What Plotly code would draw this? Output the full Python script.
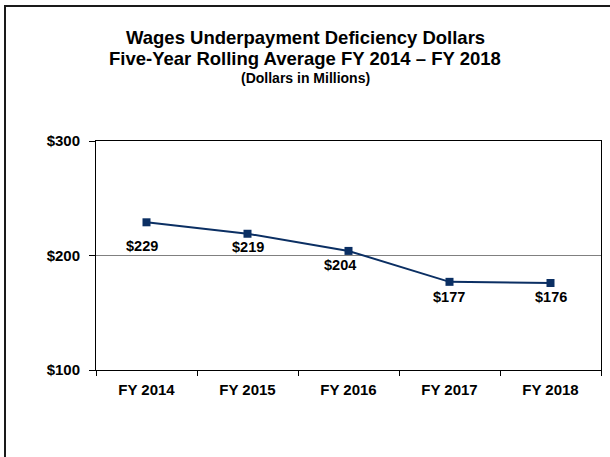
import plotly.graph_objects as go

categories = ["FY 2014", "FY 2015", "FY 2016", "FY 2017", "FY 2018"]
values = [229, 219, 204, 177, 176]
labels = ["$229", "$219", "$204", "$177", "$176"]
y_ticks = [100, 200, 300]
y_tick_labels = ["$100", "$200", "$300"]

# label placement offsets (pixels) relative to each point
label_dx = [-5, 0, -9, -1, 0]
label_dy = [-24, -13, -14, -15, -14]

W, H = 610, 457
L, R, T, B = 96, 9, 141, 87
pw, ph = W - L - R, H - T - B

def px_x(x):
    return (x - L) / pw

def px_y(y):
    return (H - B - y) / ph

NAVY = "#0b2f63"
FONT = "Liberation Sans, Arial, sans-serif"

fig = go.Figure()
fig.add_trace(go.Scatter(
    x=categories, y=values, mode="lines+markers",
    line=dict(color=NAVY, width=2),
    marker=dict(symbol="square", size=8, color=NAVY),
    hoverinfo="skip", showlegend=False,
))

for c, v, t, dx, dy in zip(categories, values, labels, label_dx, label_dy):
    fig.add_annotation(x=c, y=v, text="<b>%s</b>" % t, showarrow=False,
                       xshift=dx, yshift=dy,
                       font=dict(family=FONT, size=14.5, color="#000000"))

titles = [("Wages Underpayment Deficiency Dollars", 18.5, 38),
          ("Five-Year Rolling Average FY 2014 \u2013 FY 2018", 18.5, 58.5),
          ("(Dollars in Millions)", 14, 77.5)]
for txt, sz, yc in titles:
    fig.add_annotation(xref="paper", yref="paper", x=px_x(305), y=px_y(yc),
                       text="<b>%s</b>" % txt, showarrow=False,
                       xanchor="center", yanchor="middle",
                       font=dict(family=FONT, size=sz, color="#000000"))

# outer frame
fig.add_shape(type="rect", xref="paper", yref="paper",
              x0=px_x(5), x1=px_x(615), y0=px_y(470), y1=px_y(6),
              line=dict(color="#1a1a1a", width=2), layer="above")

fig.update_layout(
    width=W, height=H,
    margin=dict(l=L, r=R, t=T, b=B),
    paper_bgcolor="white", plot_bgcolor="white",
    font=dict(family=FONT, size=15, color="#000000"),
    xaxis=dict(
        type="category", range=[-0.5, 4.5],
        showline=True, linecolor="#000000", linewidth=1, mirror=True,
        ticks="outside", tickson="boundaries", ticklen=5, tickcolor="#000000",
        showgrid=False, tickfont=dict(family=FONT, size=15, weight="bold"),
        ticklabelstandoff=6,
    ),
    yaxis=dict(
        range=[100, 300], tickvals=y_ticks, ticktext=y_tick_labels,
        showline=True, linecolor="#000000", linewidth=1, mirror=True,
        ticks="outside", ticklen=6, tickcolor="#000000",
        showgrid=True, gridcolor="#808080", gridwidth=1,
        zeroline=False, tickfont=dict(family=FONT, size=15, weight="bold"),
        ticklabelstandoff=6,
    ),
)

fig.write_html("out.html",
               config={"displayModeBar": False, "staticPlot": True},
               post_script="document.body.style.margin='0';document.body.style.overflow='hidden';")
